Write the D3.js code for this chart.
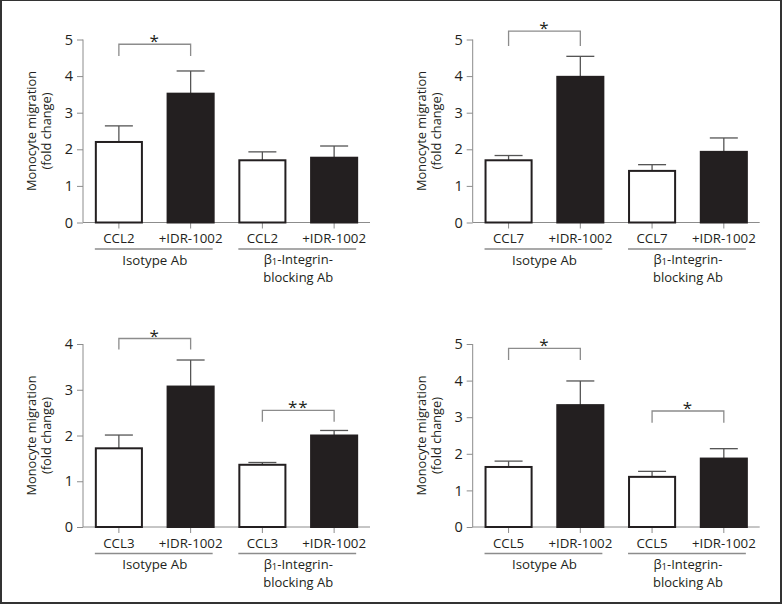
<!DOCTYPE html>
<html><head><meta charset="utf-8">
<script src="https://cdn.jsdelivr.net/npm/d3@7"></script>
<style>
body{margin:0;background:#fff}
text{font-family:"Open Sans",sans-serif;fill:#231f20}
</style></head>
<body><svg id="c" width="783" height="606"></svg>
<script>
// ---- data ----
const chemokines = ["CCL2", "CCL7", "CCL3", "CCL5"];
const treatment = "+IDR-1002";
const groupLabels = ["Isotype Ab", "β1-Integrin-blocking Ab"];
const yMaxes = [5, 5, 4, 5];
const yTicks = [[0,1,2,3,4,5],[0,1,2,3,4,5],[0,1,2,3,4],[0,1,2,3,4,5]];
const meanCCL2 = [2.20, 3.52, 1.70, 1.77];
const semCCL2  = [0.44, 0.62, 0.23, 0.32];
const meanCCL7 = [1.70, 3.98, 1.41, 1.93];
const semCCL7  = [0.13, 0.56, 0.17, 0.38];
const meanCCL3 = [1.72, 3.07, 1.36, 2.00];
const semCCL3  = [0.29, 0.58, 0.05, 0.11];
const meanCCL5 = [1.64, 3.33, 1.37, 1.87];
const semCCL5  = [0.16, 0.66, 0.15, 0.27];
// significance brackets: [fromBar, toBar, bracketY, legBottomY, label]
const sigCCL2 = [[0, 1, 4.87, 4.55, "*"]];
const sigCCL7 = [[0, 1, 5.23, 4.82, "*"]];
const sigCCL3 = [[0, 1, 4.12, 3.88, "*"], [2, 3, 2.55, 2.30, "**"]];
const sigCCL5 = [[0, 1, 4.88, 4.56, "*"], [2, 3, 3.17, 2.85, "*"]];
const yTitle = ["Monocyte migration", "(fold change)"];

const means = [meanCCL2, meanCCL7, meanCCL3, meanCCL5];
const sems = [semCCL2, semCCL7, semCCL3, semCCL5];
const sigs = [sigCCL2, sigCCL7, sigCCL3, sigCCL5];

// ---- layout ----
const svg = d3.select("#c");
const dark = "#231f20", axisGrey = "#8c8c8c", errGrey = "#555";
svg.append("rect").attr("x",1).attr("y",0).attr("width",780).attr("height",603)
  .attr("fill","none").attr("stroke","#333").attr("stroke-width",2);

const origins = [[83,39.5],[472.7,39.5],[83,344],[472.7,344]];
const pw = 287, ph = 183;

chemokines.forEach((chem, p) => {
  const [ox, oy] = origins[p];
  const g = svg.append("g").attr("transform",`translate(${ox},${oy})`);
  const cats = [0,1,2,3];
  const labels = [chem, treatment, chem, treatment];
  const x = d3.scaleBand().domain(cats).range([0,pw]).padding(0);
  const bw = x.bandwidth()*0.67;
  const cx = i => x(i) + x.bandwidth()/2;
  const y = d3.scaleLinear().domain([0, yMaxes[p]]).range([ph,0]);

  // y axis
  const ya = g.append("g").call(d3.axisLeft(y).tickValues(yTicks[p]).tickSize(6).tickPadding(4).tickFormat(d3.format("d")));
  ya.select(".domain").attr("stroke",axisGrey).attr("d",`M0,${ph}V0`);
  ya.selectAll("line").attr("stroke",axisGrey);
  ya.selectAll("text").style("font-size","14.5px").attr("fill",dark).style("font-family","'Open Sans',sans-serif");

  // x axis
  const xa = g.append("g").attr("transform",`translate(0,${ph})`)
    .call(d3.axisBottom(x).tickSize(6).tickFormat(""));
  xa.select(".domain").attr("stroke",axisGrey).attr("d",`M0,0H${pw}`);
  xa.selectAll("line").attr("stroke",axisGrey);

  // error bars (drawn before bars)
  const m = means[p], s = sems[p];
  g.selectAll(".eb").data(cats).join("line")
    .attr("x1",i=>cx(i)).attr("x2",i=>cx(i))
    .attr("y1",i=>y(m[i])).attr("y2",i=>y(m[i]+s[i]))
    .attr("stroke",errGrey).attr("stroke-width",1.3);
  g.selectAll(".cap").data(cats).join("line")
    .attr("x1",i=>cx(i)-14).attr("x2",i=>cx(i)+14)
    .attr("y1",i=>y(m[i]+s[i])).attr("y2",i=>y(m[i]+s[i]))
    .attr("stroke",errGrey).attr("stroke-width",1.3);

  // bars
  g.selectAll(".bar").data(cats).join("rect")
    .attr("x",i=>cx(i)-bw/2+1).attr("width",bw-2)
    .attr("y",i=>y(m[i])).attr("height",i=>ph-y(m[i]))
    .attr("fill",i=>i%2?dark:"#fff").attr("stroke",dark).attr("stroke-width",2);

  // category labels
  g.selectAll(".cl").data(cats).join("text")
    .attr("x",i=>cx(i)).attr("y",ph+20.5).attr("text-anchor","middle")
    .style("font-size","13.3px").text(i=>labels[i]);

  // group underline and labels
  [0,1].forEach(k => {
    const a = k*2, b = k*2+1;
    g.append("line").attr("x1",cx(a)-bw/2).attr("x2",cx(b)+bw/2-2)
      .attr("y1",ph+26.5).attr("y2",ph+26.5).attr("stroke",axisGrey).attr("stroke-width",1.3);
    const gx = (cx(a)+cx(b))/2;
    if (k===0) {
      g.append("text").attr("x",gx).attr("y",ph+42).attr("text-anchor","middle")
        .style("font-size","13.3px").text(groupLabels[0]);
    } else {
      const parts = groupLabels[1].split("blocking");
      const t = g.append("text").attr("x",gx).attr("y",ph+41.5).attr("text-anchor","middle").style("font-size","13px");
      t.append("tspan").text("β");
      t.append("tspan").attr("dy",1).style("font-size","9.5px").text("1");
      t.append("tspan").attr("dy",-1).text(parts[0].slice(2));
      g.append("text").attr("x",gx).attr("y",ph+59.5).attr("text-anchor","middle")
        .style("font-size","13px").text("blocking" + parts[1]);
    }
  });

  // significance brackets
  sigs[p].forEach(([a,b,yb,yl,lab]) => {
    g.append("path").attr("d",`M${cx(a)},${y(yl)}V${y(yb)}H${cx(b)}V${y(yl)}`)
      .attr("fill","none").attr("stroke",axisGrey).attr("stroke-width",1.3);
    g.append("text").attr("x",(cx(a)+cx(b))/2).attr("y",y(yb)+3).attr("text-anchor","middle")
      .style("font-size","17px").style("letter-spacing","1px").text(lab);
  });

  // y title
  yTitle.forEach((t, j) => {
    g.append("text").attr("transform",`translate(${-47+j*15},${ph/2}) rotate(-90)`)
      .attr("text-anchor","middle").style("font-size","12.8px").text(t);
  });
});
</script></body></html>
